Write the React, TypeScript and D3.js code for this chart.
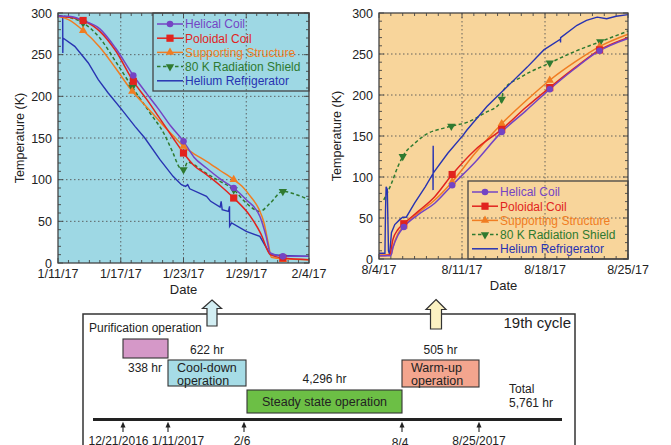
import React from 'react';
import * as d3 from 'd3';

type Pt = [number, number];

// ---- cool-down period, days after 1/11/17 ----
const coolTickLabels = ['1/11/17', '1/17/17', '1/23/17', '1/29/17', '2/4/17'];
const coolTickDays = [0, 6, 12, 18, 24];

const coolHelical: Pt[] = [[0, 296], [1, 296], [2.4, 291], [4, 281], [5.5, 258], [7.2, 225], [8.5, 203], [9.6, 185], [10.8, 164], [12, 146], [13, 127], [14.2, 114], [15.5, 101], [16.8, 90], [18, 76], [19.3, 56], [19.9, 32], [20.3, 12], [21.5, 8], [24, 8]];
const coolPoloidal: Pt[] = [[0, 296], [1, 295], [2.4, 291], [4, 278], [5.5, 255], [7.2, 218], [8.5, 196], [9.6, 176], [11, 150], [12, 132], [13, 117], [14.2, 106], [15.5, 93], [16.8, 78], [18.4, 56], [19.4, 35], [20.3, 10], [21.5, 6], [24, 4]];
const coolSupport: Pt[] = [[0, 296], [1, 292], [2.4, 279], [4, 259], [5.5, 234], [7.1, 206], [8.5, 187], [10, 166], [11, 153], [12, 140], [13, 131], [14.2, 122], [15.5, 111], [16.8, 100], [17.6, 92], [18.4, 80], [19.2, 65], [19.7, 48], [20.1, 24], [20.4, 7], [21.5, 5], [24, 4]];
const coolShield: Pt[] = [[0, 297], [1, 295], [2.4, 288], [4, 270], [5.5, 242], [7.1, 211], [8.8, 180], [10.1, 156], [11, 132], [11.6, 115], [12, 112], [12.4, 121], [13, 118], [13.9, 110], [15.2, 100], [16.8, 88], [18, 72], [19.3, 62], [20.3, 72], [21.5, 86], [22.8, 82], [24, 76]];
const coolHelium: Pt[] = [[0, 297], [0.45, 296], [0.46, 252], [0.48, 270], [1.6, 260], [2.9, 240], [3.85, 220], [4.8, 204], [6.1, 184], [7.36, 164], [8.3, 150], [9.75, 124], [11, 104], [11.8, 94], [12.2, 92], [12.4, 94], [12.6, 89], [14.2, 80], [14.6, 74], [15.5, 67], [15.6, 74], [15.7, 64], [16.3, 62], [16.4, 68], [16.41, 44], [16.6, 48], [18, 38], [19.3, 32], [20.3, 10], [21.5, 9], [24, 8]];

const coolHelicalMarks: Pt[] = [[7.2, 225], [12, 146], [16.8, 90], [21.5, 8]];
const coolPoloidalMarks: Pt[] = [[2.4, 291], [7.2, 218], [12, 132], [16.8, 78], [21.5, 6]];
const coolSupportMarks: Pt[] = [[2.4, 279], [7.1, 206], [12, 140], [16.8, 100], [21.5, 4]];
const coolShieldMarks: Pt[] = [[2.4, 288], [7.1, 211], [12, 112], [16.8, 88], [21.5, 86]];

// ---- warm-up period, days after 8/4/17 ----
const warmTickLabels = ['8/4/17', '8/11/17', '8/18/17', '8/25/17'];
const warmTickDays = [0, 7, 14, 21];

const warmHelical: Pt[] = [[0, 4], [1, 4], [1.18, 14], [1.6, 29], [2.09, 39], [3.3, 54], [4.7, 68], [6.17, 90], [8.1, 118], [10.35, 155], [12.4, 181], [14.4, 207], [16.5, 232], [18.6, 254], [21, 269]];
const warmPoloidal: Pt[] = [[0, 4], [0.9, 5], [1.18, 24], [1.6, 36], [2.09, 43], [3.3, 58], [4.7, 76], [6.17, 103], [8.1, 133], [10.35, 158], [12.4, 185], [14.4, 209], [16.5, 233], [18.6, 255], [21, 270]];
const warmSupport: Pt[] = [[0, 5], [1, 5], [1.18, 15], [1.6, 31], [2.09, 40], [3.3, 56], [4.7, 72], [6.17, 94], [8.1, 129], [10.35, 165], [12.4, 193], [14.4, 218], [16.5, 240], [18.6, 259], [21, 274]];
const warmShield: Pt[] = [[0.4, 72], [1.05, 92], [1.6, 113], [2, 125], [3, 141], [4.1, 153], [5.3, 159], [6.1, 162], [7.5, 167], [8.9, 178], [10.2, 190], [10.35, 195], [10.5, 206], [12, 222], [14.4, 239], [16.5, 253], [18.66, 265], [21, 278]];
const warmHelium: Pt[] = [[0, 7], [0.5, 7], [0.55, 60], [0.6, 88], [0.7, 85], [0.8, 10], [0.9, 5], [1.05, 32], [1.33, 42], [1.75, 48], [2, 51], [2.3, 51], [3, 68], [3.9, 88], [4.55, 104], [4.56, 84], [4.57, 138], [4.58, 105], [5.8, 129], [7.1, 151], [7.4, 157], [9.1, 186], [10.8, 210], [12.5, 234], [13.9, 255], [15.3, 268], [15.31, 264], [15.32, 270], [16.7, 285], [17.5, 291], [18.4, 295], [19.2, 293], [20, 296], [21, 298]];

const warmHelicalMarks: Pt[] = [[2.09, 39], [6.17, 90], [10.35, 155], [14.4, 207], [18.6, 254]];
const warmPoloidalMarks: Pt[] = [[2.09, 43], [6.17, 103], [10.35, 158], [14.4, 209], [18.6, 255]];
const warmSupportMarks: Pt[] = [[2.09, 40], [6.17, 94], [10.35, 165], [14.4, 218], [18.6, 259]];
const warmShieldMarks: Pt[] = [[2, 125], [6.1, 162], [10.35, 195], [14.4, 239], [18.66, 265]];

const seriesNames = ['Helical Coil', 'Poloidal Coil', 'Supporting Structure', '80 K Radiation Shield', 'Helium Refrigerator'];
const yTicks = [0, 50, 100, 150, 200, 250, 300];

// ---- 19th cycle timeline ----
const milestoneLabels = ['12/21/2016', '1/11/2017', '2/6', '8/4', '8/25/2017'];
const phaseNames = ['Purification operation', 'Cool-down operation', 'Steady state operation', 'Warm-up operation'];
const phaseHours = ['338 hr', '622 hr', '4,296 hr', '505 hr'];
const totalHours = '5,761 hr';

const colors = ['#7444c4', '#e1241e', '#f07d22', '#2f7a30', '#2833b2'];
const markerTypes = ['circle', 'square', 'up', 'down', 'none'];
const FONT = '"Liberation Sans", Arial, Helvetica, sans-serif';
const TXT = '#222';

type Box = { l: number; t: number; r: number; b: number };

const Marker = ({ kind, x, y, color }: { kind: string; x: number; y: number; color: string }) => {
  if (kind === 'circle') return <circle cx={x} cy={y} r={3.3} fill={color} />;
  if (kind === 'square') return <rect x={x - 3.6} y={y - 3.6} width={7.2} height={7.2} fill={color} />;
  if (kind === 'up' || kind === 'down') {
    const p = d3.symbol(d3.symbolTriangle, 30)() || '';
    return <path d={p} fill={color} transform={`translate(${x},${y})${kind === 'down' ? ' rotate(180)' : ''}`} />;
  }
  return null;
};

interface ChartProps {
  box: Box;
  xMax: number;
  tickDays: number[];
  tickLabels: string[];
  bg: string;
  lines: Pt[][];
  marks: Pt[][];
  legend: { x: number; y: number; w: number; h: number };
  titleX: number;
}

const TempChart = ({ box, xMax, tickDays, tickLabels, bg, lines, marks, legend, titleX }: ChartProps) => {
  const x = d3.scaleLinear().domain([0, xMax]).range([box.l, box.r]);
  const y = d3.scaleLinear().domain([0, 300]).range([box.b, box.t]);
  const smooth = d3.line<Pt>().x((d) => x(d[0])).y((d) => y(d[1])).curve(d3.curveMonotoneX);
  const straight = d3.line<Pt>().x((d) => x(d[0])).y((d) => y(d[1]));
  const minorX = d3.range(0, xMax + 0.01, 1);
  const minorY = d3.range(0, 301, 10);
  const order = [3, 4, 2, 1, 0];

  return (
    <g fontFamily={FONT}>
      <rect x={box.l} y={box.t} width={box.r - box.l} height={box.b - box.t} fill={bg} />
      {tickDays.slice(1, -1).map((d) => (
        <line key={'gx' + d} x1={x(d)} x2={x(d)} y1={box.t} y2={box.b} stroke="#555" strokeWidth={0.9} strokeDasharray="1.5,2.5" />
      ))}
      {yTicks.slice(1, -1).map((v) => (
        <line key={'gy' + v} x1={box.l} x2={box.r} y1={y(v)} y2={y(v)} stroke="#555" strokeWidth={0.9} strokeDasharray="1.5,2.5" />
      ))}
      {minorX.map((d) => {
        const len = tickDays.includes(d) ? 5 : 3;
        return (
          <g key={'mx' + d} stroke="#444" strokeWidth={0.9}>
            <line x1={x(d)} x2={x(d)} y1={box.b} y2={box.b - len} />
            <line x1={x(d)} x2={x(d)} y1={box.t} y2={box.t + len} />
          </g>
        );
      })}
      {minorY.map((v) => {
        const len = v % 50 === 0 ? 5 : 3;
        return (
          <g key={'my' + v} stroke="#444" strokeWidth={0.9}>
            <line x1={box.l} x2={box.l + len} y1={y(v)} y2={y(v)} />
            <line x1={box.r} x2={box.r - len} y1={y(v)} y2={y(v)} />
          </g>
        );
      })}
      {order.map((i) => (
        <path
          key={'s' + i}
          d={(i === 4 ? straight : smooth)(lines[i]) || ''}
          fill="none"
          stroke={colors[i]}
          strokeWidth={i === 4 ? 1.4 : 1.5}
          strokeDasharray={i === 3 ? '3.5,2.5' : undefined}
        />
      ))}
      {order.filter((i) => i < 4).map((i) =>
        marks[i].map((m, k) => <Marker key={'m' + i + '-' + k} kind={markerTypes[i]} x={x(m[0])} y={y(m[1])} color={colors[i]} />)
      )}
      <rect x={box.l} y={box.t} width={box.r - box.l} height={box.b - box.t} fill="none" stroke="#444" strokeWidth={1.3} />
      {yTicks.map((v) => (
        <text key={'yl' + v} x={box.l - 6} y={y(v) + 4.5} textAnchor="end" fontSize={12.5} fill={TXT}>
          {v}
        </text>
      ))}
      {tickDays.map((d, i) => (
        <text key={'xl' + d} x={x(d)} y={box.b + 15} textAnchor="middle" fontSize={12.5} fill={TXT}>
          {tickLabels[i]}
        </text>
      ))}
      <text x={(box.l + box.r) / 2} y={box.b + 31} textAnchor="middle" fontSize={13} fill={TXT}>
        Date
      </text>
      <text
        transform={`translate(${titleX},${(box.t + box.b) / 2}) rotate(-90)`}
        textAnchor="middle"
        fontSize={12.5}
        fill={TXT}
      >
        Temperature (K)
      </text>
      <rect x={legend.x} y={legend.y} width={legend.w} height={legend.h} fill="none" stroke="#444" strokeWidth={1.3} />
      {seriesNames.map((name, i) => {
        const cy = legend.y + 11 + i * 14.2;
        const x0 = legend.x + 4;
        const x1 = legend.x + 30;
        return (
          <g key={'lg' + i}>
            <line x1={x0} x2={x1} y1={cy} y2={cy} stroke={colors[i]} strokeWidth={1.5} strokeDasharray={i === 3 ? '3.5,2.5' : undefined} />
            <Marker kind={markerTypes[i]} x={(x0 + x1) / 2} y={cy} color={colors[i]} />
            <text x={legend.x + 32} y={cy + 4.3} fontSize={12} fill={colors[i]}>
              {name}
            </text>
          </g>
        );
      })}
    </g>
  );
};

const BlockArrow = ({ cx, top, headB, bottom, headW, shaftW, fill }: { cx: number; top: number; headB: number; bottom: number; headW: number; shaftW: number; fill: string }) => {
  const pts: Pt[] = [
    [cx, top], [cx + headW, headB], [cx + shaftW, headB], [cx + shaftW, bottom],
    [cx - shaftW, bottom], [cx - shaftW, headB], [cx - headW, headB],
  ];
  return <path d={(d3.line()(pts) || '') + 'Z'} fill={fill} stroke="#333" strokeWidth={1.2} strokeLinejoin="miter" />;
};

const Timeline = () => {
  // schematic (not to time scale) position of each milestone
  const tx = d3.scaleLinear().domain([0, 1, 2, 3, 4]).range([123, 168, 244, 402, 479]);
  const lineY = 419.5;
  const labelShift = [-4.5, 10, -2, -2, 0];
  const labelDrop = [0, 0, 0, 1.5, 0];
  const rows = [
    { t: 339, h: 19 },
    { t: 360, h: 26 },
    { t: 390, h: 23 },
    { t: 360, h: 27 },
  ];
  const fills = ['#d598c8', '#a6dce6', '#6cbf45', '#f3a58e'];
  return (
    <g fontFamily={FONT} fill={TXT}>
      <rect x={83} y={314} width={492} height={150} fill="#fff" stroke="#333" strokeWidth={1.5} />
      <BlockArrow cx={212} top={300} headB={308.5} bottom={326} headW={9.5} shaftW={5} fill="#d2eef3" />
      <BlockArrow cx={436} top={299.5} headB={309.5} bottom={329} headW={10} shaftW={5.5} fill="#fbf1c2" />
      <text x={571} y={327.5} textAnchor="end" fontSize={15}>19th cycle</text>

      {phaseNames.map((name, i) => {
        const x0 = tx(i) + (i === 2 ? 3 : 0);
        const x1 = tx(i + 1) + (i === 1 ? 2 : 0);
        const r = rows[i];
        return (
          <g key={'ph' + i}>
            <rect x={x0} y={r.t} width={x1 - x0} height={r.h} fill={fills[i]} stroke="#333" strokeWidth={1.1} />
            {i === 0 && (
              <>
                <text x={89} y={332} fontSize={12}>{name}</text>
                <text x={x0 + 5} y={372} fontSize={12}>{phaseHours[i]}</text>
              </>
            )}
            {(i === 1 || i === 3) && (
              <>
                <text x={x0 + 9} y={r.t + 11.5} fontSize={12.5}>{name.split(' ')[0]}</text>
                <text x={x0 + 9} y={r.t + 24.5} fontSize={12.5}>{name.split(' ')[1]}</text>
                <text x={(x0 + x1) / 2} y={r.t - 6.5} textAnchor="middle" fontSize={12}>{phaseHours[i]}</text>
              </>
            )}
            {i === 2 && (
              <>
                <text x={(x0 + x1) / 2} y={r.t + 15.5} textAnchor="middle" fontSize={12.5}>{name}</text>
                <text x={(x0 + x1) / 2} y={r.t - 7} textAnchor="middle" fontSize={12}>{phaseHours[i]}</text>
              </>
            )}
          </g>
        );
      })}

      <text x={509} y={393} fontSize={12}>Total</text>
      <text x={509} y={407} fontSize={12}>{totalHours}</text>

      <line x1={93} x2={562} y1={lineY} y2={lineY} stroke="#222" strokeWidth={3} />
      {milestoneLabels.map((lab, i) => (
        <g key={'ms' + i}>
          <line x1={tx(i)} x2={tx(i)} y1={432} y2={425} stroke="#222" strokeWidth={1.1} />
          <path d={`M${tx(i)},${421.8}L${tx(i) + 2.5},${427.5}L${tx(i) - 2.5},${427.5}Z`} fill="#222" />
          <text x={tx(i) + labelShift[i]} y={445 + labelDrop[i]} textAnchor="middle" fontSize={12}>{lab}</text>
        </g>
      ))}
    </g>
  );
};

export default function App() {
  return (
    <svg width={671} height={445} style={{ position: 'absolute', left: 0, top: 0, background: '#fff' }}>
      <TempChart
        box={{ l: 58, t: 13, r: 309, b: 263 }}
        xMax={24}
        tickDays={coolTickDays}
        tickLabels={coolTickLabels}
        bg="#9ed8e4"
        lines={[coolHelical, coolPoloidal, coolSupport, coolShield, coolHelium]}
        marks={[coolHelicalMarks, coolPoloidalMarks, coolSupportMarks, coolShieldMarks]}
        legend={{ x: 153, y: 13, w: 156, h: 78 }}
        titleX={24}
      />
      <TempChart
        box={{ l: 379, t: 13, r: 628, b: 259 }}
        xMax={21}
        tickDays={warmTickDays}
        tickLabels={warmTickLabels}
        bg="#f8d59b"
        lines={[warmHelical, warmPoloidal, warmSupport, warmShield, warmHelium]}
        marks={[warmHelicalMarks, warmPoloidalMarks, warmSupportMarks, warmShieldMarks]}
        legend={{ x: 468, y: 181, w: 160, h: 78 }}
        titleX={341}
      />
      <Timeline />
    </svg>
  );
}
